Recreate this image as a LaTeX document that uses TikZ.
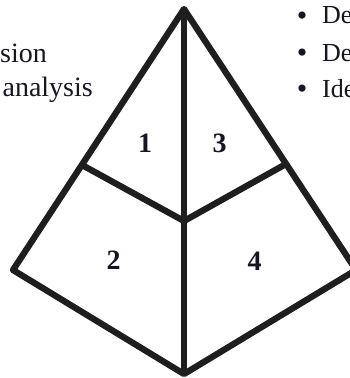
\documentclass[tikz,border=0pt]{standalone}
\usepackage{fontspec}
\setmainfont{Liberation Serif}
\definecolor{ink}{RGB}{22,22,34}
\definecolor{edgec}{RGB}{30,30,30}
\begin{document}
\begin{tikzpicture}[x=1pt,y=-1pt,
  edge/.style={line width=6.3pt, draw=edgec, line join=round},
  num/.style={font=\fontsize{28}{28}\selectfont\bfseries, text=ink, inner sep=0pt},
  lefttxt/.style={font=\fontsize{28}{32}\selectfont, text=ink, inner sep=0pt, anchor=base east},
  righttxt/.style={font=\fontsize{26}{30}\selectfont, text=ink, inner sep=0pt, anchor=base west},
  bul/.style={font=\fontsize{30}{30}\selectfont, text=ink, inner sep=0pt, anchor=base}]
\useasboundingbox (0,0) rectangle (350,378);
\clip (0,0) rectangle (350,378);
\coordinate (apex) at (184,9);
\coordinate (L) at (13,270);
\coordinate (R) at (356,270);
\coordinate (B) at (184,374);
\coordinate (ML) at (82,165);
\coordinate (MR) at (286,164);
\coordinate (C) at (184,221);
\draw[edge] (apex) -- (L) -- (B) -- (R) -- cycle;
\draw[edge] (apex) -- (B);
\draw[edge] (ML) -- (C) -- (MR);
\node[num] (n1) at (145,143) {1};
\node[num] (n3) at (219.5,143) {3};
\node[num] (n2) at (113.5,260) {2};
\node[num] (n4) at (254.5,261) {4};
\node[lefttxt] (t1) at (47,62) {sion};
\node[lefttxt] (t2) at (93,96) {analysis};
\node[bul] (b1) at (302,25) {•};
\node[bul] (b2) at (302,62) {•};
\node[bul] (b3) at (302,98) {•};
\node[righttxt] (r1) at (322,23) {De};
\node[righttxt] (r2) at (322,61) {De};
\node[righttxt] (r3) at (322,97) {Ide};
\end{tikzpicture}
\end{document}
